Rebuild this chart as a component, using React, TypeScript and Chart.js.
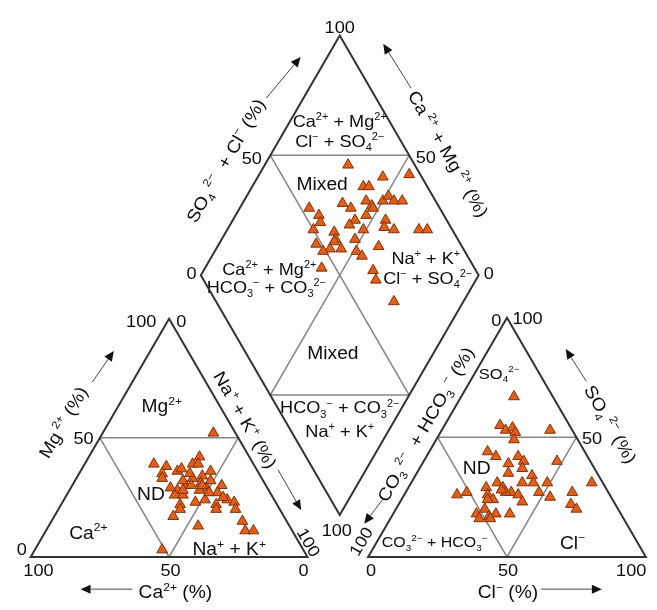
import React, { useEffect, useRef } from 'react';
import { Chart, registerables } from 'chart.js';

Chart.register(...registerables);

// ---------------- DATA (percent values) ----------------
// Cation triangle: Ca2+, Mg2+, Na+ + K+
const cationCa = [8, 36, 32, 35, 36, 29, 27, 22, 18, 20, 17, 25, 21, 29, 33, 35, 32, 27, 23, 22, 19, 16, 19, 25, 29, 35, 36, 40, 22, 23, 17, 15, 16, 18, 33, 16, 17, 14, 51, 31, 25, 22, 23, 25, 35, 29];
const cationMg = [52, 39, 38, 35, 33, 36, 37, 39, 42, 39, 36, 33, 34, 30, 28, 26, 26, 30, 31, 29, 32, 30, 27, 24, 23, 22, 20, 17, 22, 20, 24, 23, 20, 25, 13, 15, 11, 11, 3, 28, 28, 27, 30, 35, 29, 32];
const cationNaK = [40, 25, 30, 30, 31, 35, 36, 39, 40, 41, 47, 42, 45, 41, 39, 39, 42, 43, 46, 49, 49, 54, 54, 51, 48, 43, 44, 43, 56, 57, 59, 62, 64, 57, 54, 69, 72, 75, 46, 41, 47, 51, 47, 40, 36, 39];

// Anion triangle: CO3 2- + HCO3-, SO4 2-, Cl-
const anionHCO3 = [14, 25, 24, 21, 21, 23, 8, 35, 33, 25, 24, 30, 26, 12, 32, 24, 29, 25, 20, 38, 37, 35, 33, 37, 43, 44, 43, 33, 25, 22, 13, 4, 55, 51, 16, 15, 52, 48, 48, 45, 40, 52, 48, 38, 45];
const anionSO4 = [67, 55, 53, 54, 52, 49, 53, 44, 42, 42, 40, 39, 37, 40, 35, 34, 31, 31, 31, 31, 29, 27, 26, 27, 29, 26, 24, 23, 27, 25, 27, 31, 26, 27, 22, 20, 18, 20, 17, 18, 18, 16, 16, 28, 24];
const anionCl = [19, 20, 23, 25, 27, 28, 39, 21, 25, 33, 36, 31, 37, 48, 33, 42, 40, 44, 49, 31, 34, 38, 41, 36, 28, 30, 33, 44, 48, 53, 60, 65, 19, 22, 62, 65, 30, 32, 35, 37, 42, 32, 36, 34, 31];

// Diamond: Ca2+ + Mg2+ (%), SO4 2- + Cl- (%)
const diamondCaMg = [70, 55, 46, 60, 58, 56, 53, 52, 50, 49, 46, 43, 64, 60, 53, 56, 57, 75, 70, 68, 69, 61, 59, 59, 65, 59, 61, 55, 52, 51, 49, 46, 45, 44, 40, 31, 28, 42, 58, 39, 36, 25];
const diamondSO4Cl = [76, 86, 96, 77, 79, 75, 76, 76, 81, 84, 85, 88, 66, 68, 72, 67, 64, 53, 55, 54, 50, 57, 56, 55, 48, 52, 49, 56, 63, 68, 61, 62, 78, 76, 79, 88, 91, 70, 45, 63, 62, 64];

const tickLabels = ['0', '50', '100'];

// ---------------- LAYOUT ----------------
const W = 657;
const H = 610;
type P = { x: number; y: number };
const CAT_CA: P = { x: 24, y: 563 };
const CAT_NA: P = { x: 307, y: 563 };
const CAT_MG: P = { x: 165.5, y: 319 };
const AN_HCO3: P = { x: 369, y: 563 };
const AN_CL: P = { x: 653, y: 563 };
const AN_SO4: P = { x: 511, y: 318 };
const D_B: P = { x: 340, y: 520 };
const D_L: P = { x: 198, y: 274.5 };
const D_R: P = { x: 482, y: 274.5 };
const D_T: P = { x: D_L.x + D_R.x - D_B.x, y: D_L.y + D_R.y - D_B.y };

const mid = (a: P, b: P): P => ({ x: (a.x + b.x) / 2, y: (a.y + b.y) / 2 });
function bary(a: P, b: P, c: P, wa: number, wb: number, wc: number): P {
  const t = wa + wb + wc;
  return { x: (a.x * wa + b.x * wb + c.x * wc) / t, y: (a.y * wa + b.y * wb + c.y * wc) / t };
}
function diamondPt(caMg: number, so4Cl: number): P {
  return {
    x: D_B.x + (caMg / 100) * (D_L.x - D_B.x) + (so4Cl / 100) * (D_R.x - D_B.x),
    y: D_B.y + (caMg / 100) * (D_L.y - D_B.y) + (so4Cl / 100) * (D_R.y - D_B.y),
  };
}

const FONT = '"Liberation Sans", Arial, Helvetica, sans-serif';
const TEXT = '#0d0d0d';

type Label = { t: string; x: number; y: number; r?: number; s?: number };

const labels: Label[] = [
  // diamond ticks
  { t: tickLabels[2], x: 340, y: 20 },
  { t: tickLabels[1], x: 250, y: 154 },
  { t: tickLabels[1], x: 428, y: 153 },
  { t: tickLabels[0], x: 188.5, y: 272 },
  { t: tickLabels[0], x: 492.5, y: 272 },
  { t: tickLabels[2], x: 337, y: 535 },
  // cation ticks
  { t: tickLabels[2], x: 137, y: 321.5 },
  { t: tickLabels[0], x: 178, y: 321.5 },
  { t: tickLabels[1], x: 78, y: 441.5 },
  { t: tickLabels[0], x: 15, y: 555 },
  { t: tickLabels[2], x: 32, y: 576 },
  { t: tickLabels[1], x: 167, y: 576 },
  { t: tickLabels[0], x: 303, y: 576 },
  { t: tickLabels[2], x: 308.5, y: 548, r: 60 },
  // anion ticks
  { t: tickLabels[0], x: 500, y: 320 },
  { t: tickLabels[2], x: 532, y: 318 },
  { t: tickLabels[1], x: 598, y: 441 },
  { t: tickLabels[0], x: 372, y: 576 },
  { t: tickLabels[1], x: 512, y: 576 },
  { t: tickLabels[2], x: 638, y: 576 },
  { t: tickLabels[2], x: 361.5, y: 547, r: -60 },
  // diamond fields
  { t: 'Ca^{2+} + Mg^{2+}', x: 340, y: 117, s: 16.5 },
  { t: 'Cl^{−} + SO_{4}^{2−}', x: 340, y: 137, s: 16.5 },
  { t: 'Mixed', x: 322, y: 181, s: 17.5 },
  { t: 'Ca^{2+} + Mg^{2+}', x: 268, y: 268, s: 16.5 },
  { t: 'HCO_{3}^{−} + CO_{3}^{2−}', x: 265, y: 287, s: 16.5 },
  { t: 'Na^{+} + K^{+}', x: 428, y: 257, s: 16.5 },
  { t: 'Cl^{−} + SO_{4}^{2−}', x: 430, y: 277, s: 16.5 },
  { t: 'Mixed', x: 333, y: 354, s: 17.5 },
  { t: 'HCO_{3}^{−} + CO_{3}^{2−}', x: 340, y: 410, s: 16.5 },
  { t: 'Na^{+} + K^{+}', x: 340, y: 434, s: 16.5 },
  // cation fields
  { t: 'Mg^{2+}', x: 158, y: 408, s: 17.5 },
  { t: 'ND', x: 147, y: 498, s: 17.5 },
  { t: 'Ca^{2+}', x: 83, y: 538, s: 17.5 },
  { t: 'Na^{+} + K^{+}', x: 227, y: 555, s: 17.5 },
  // anion fields
  { t: 'SO_{4}^{2−}', x: 503, y: 375, s: 15 },
  { t: 'ND', x: 480, y: 472, s: 17.5 },
  { t: 'CO_{3}^{2−} + HCO_{3}^{−}', x: 437, y: 548, s: 14.5 },
  { t: 'Cl^{−}', x: 578, y: 548, s: 17.5 },
  // axis titles
  { t: 'SO_{4}^{ 2−}  + Cl^{−} (%)', x: 223, y: 157, r: -60, s: 17.5 },
  { t: 'Ca^{ 2+} + Mg^{ 2+} (%)', x: 451, y: 150, r: 60, s: 17.5 },
  { t: 'Na^{+} + K^{+} (%)', x: 243.5, y: 422.5, r: 60, s: 17.5 },
  { t: 'CO_{3}^{ 2−}  + HCO_{3}^{ −} (%)', x: 427.5, y: 427, r: -60, s: 17.5 },
  { t: 'Mg^{ 2+} (%)', x: 57, y: 425, r: -60, s: 17.5 },
  { t: 'SO_{4}^{ 2−} (%)', x: 617, y: 427, r: 60, s: 17.5 },
  { t: 'Ca^{2+} (%)', x: 172, y: 599, s: 17.5 },
  { t: 'Cl^{−} (%)', x: 512, y: 599, s: 17.5 },
];

const arrows: [number, number, number, number][] = [
  [265, 93, 300, 51],
  [413, 83, 384.5, 37.5],
  [277, 474, 300.5, 515],
  [384, 504, 365, 529],
  [87, 384, 109, 352],
  [128, 596, 75, 596],
  [592, 383, 571, 350],
  [546, 596, 608, 596],
];

function drawRich(ctx: CanvasRenderingContext2D, str: string, x: number, y: number, rot: number, size: number) {
  const parts = str
    .split(/(\^\{[^}]*\}|_\{[^}]*\})/)
    .filter((p) => p.length > 0)
    .map((p) => (p.startsWith('^{') ? { t: p.slice(2, -1), k: 1 } : p.startsWith('_{') ? { t: p.slice(2, -1), k: 2 } : { t: p, k: 0 }));
  const small = Math.round(size * 0.6);
  ctx.save();
  ctx.translate(x, y);
  ctx.rotate((rot * Math.PI) / 180);
  ctx.scale(1.1, 1);
  ctx.fillStyle = TEXT;
  ctx.textBaseline = 'alphabetic';
  ctx.textAlign = 'left';
  let total = 0;
  const widths = parts.map((p) => {
    ctx.font = `${p.k ? small : size}px ${FONT}`;
    const w = ctx.measureText(p.t).width;
    total += w;
    return w;
  });
  let cx = -total / 2;
  const base = size * 0.36;
  parts.forEach((p, i) => {
    ctx.font = `${p.k ? small : size}px ${FONT}`;
    const dy = p.k === 1 ? -size * 0.42 : p.k === 2 ? size * 0.25 : 0;
    ctx.fillText(p.t, cx, base + dy);
    cx += widths[i];
  });
  ctx.restore();
}

function drawArrow(ctx: CanvasRenderingContext2D, x1: number, y1: number, x2: number, y2: number) {
  const a = Math.atan2(y2 - y1, x2 - x1);
  const L = 10;
  const hw = 4.5;
  const c = Math.cos(a);
  const s = Math.sin(a);
  ctx.save();
  ctx.strokeStyle = '#444';
  ctx.fillStyle = '#111';
  ctx.lineWidth = 1;
  ctx.beginPath();
  ctx.moveTo(x1, y1);
  ctx.lineTo(x2 - L * c, y2 - L * s);
  ctx.stroke();
  ctx.beginPath();
  ctx.moveTo(x2, y2);
  ctx.lineTo(x2 - L * c + hw * s, y2 - L * s - hw * c);
  ctx.lineTo(x2 - L * c - hw * s, y2 - L * s + hw * c);
  ctx.closePath();
  ctx.fill();
  ctx.restore();
}

const annotationPlugin = {
  id: 'piperAnnotations',
  beforeDatasetsDraw(chart: any) {
    const ctx: CanvasRenderingContext2D = chart.ctx;
    const xs = chart.scales.x;
    const ys = chart.scales.y;
    labels.forEach((l) => drawRich(ctx, l.t, xs.getPixelForValue(l.x), ys.getPixelForValue(l.y), l.r || 0, l.s || 16.5));
    arrows.forEach(([a, b, c, d]) =>
      drawArrow(ctx, xs.getPixelForValue(a), ys.getPixelForValue(b), xs.getPixelForValue(c), ys.getPixelForValue(d))
    );
  },
};

export default function App() {
  const ref = useRef<HTMLCanvasElement | null>(null);
  useEffect(() => {
    if (!ref.current) return;
    const cationPts = cationCa.map((ca, i) => bary(CAT_CA, CAT_NA, CAT_MG, ca, cationNaK[i], cationMg[i]));
    const anionPts = anionHCO3.map((h, i) => bary(AN_HCO3, AN_CL, AN_SO4, h, anionCl[i], anionSO4[i]));
    const diamondPts = diamondCaMg.map((cm, i) => diamondPt(cm, diamondSO4Cl[i]));

    const frame = (data: P[]) => ({
      data,
      showLine: true,
      borderColor: '#333333',
      borderWidth: 2,
      pointRadius: 0,
      fill: false,
      tension: 0,
      order: 2,
    });
    const inner = (data: P[]) => ({
      data,
      showLine: true,
      borderColor: '#858585',
      borderWidth: 1.5,
      pointRadius: 0,
      fill: false,
      tension: 0,
      order: 3,
    });
    const marks = (data: P[]) => ({
      data,
      showLine: false,
      pointStyle: 'triangle',
      pointRadius: 6.2,
      backgroundColor: '#e25e1a',
      borderColor: '#7e3206',
      borderWidth: 1,
      order: 0,
    });

    const cM = [mid(CAT_CA, CAT_MG), mid(CAT_NA, CAT_MG), mid(CAT_CA, CAT_NA)];
    const aM = [mid(AN_HCO3, AN_SO4), mid(AN_CL, AN_SO4), mid(AN_HCO3, AN_CL)];
    const dUL = mid(D_L, D_T);
    const dUR = mid(D_R, D_T);
    const dLL = mid(D_L, D_B);
    const dLR = mid(D_R, D_B);

    const chart = new Chart(ref.current, {
      type: 'scatter',
      data: {
        datasets: [
          marks(cationPts),
          marks(anionPts),
          marks(diamondPts),
          frame([CAT_CA, CAT_NA, CAT_MG, CAT_CA, CAT_NA]),
          frame([AN_HCO3, AN_CL, AN_SO4, AN_HCO3, AN_CL]),
          frame([D_B, D_R, D_T, D_L, D_B, D_R]),
          inner([cM[0], cM[1], cM[2], cM[0]]),
          inner([aM[0], aM[1], aM[2], aM[0]]),
          inner([dUL, dUR, dLL, dLR, dUL]),
        ] as any,
      },
      options: {
        responsive: false,
        animation: false,
        devicePixelRatio: 1,
        layout: { padding: 0 },
        events: [],
        scales: {
          x: { type: 'linear', min: 0, max: W, display: false },
          y: { type: 'linear', min: 0, max: H, reverse: true, display: false },
        },
        plugins: { legend: { display: false }, tooltip: { enabled: false } },
      } as any,
      plugins: [annotationPlugin],
    });
    return () => chart.destroy();
  }, []);
  return (
    <div style={{ position: 'absolute', left: 0, top: 0, width: W, height: H, background: '#fff' }}>
      <canvas ref={ref} width={W} height={H} style={{ display: 'block' }} />
    </div>
  );
}
